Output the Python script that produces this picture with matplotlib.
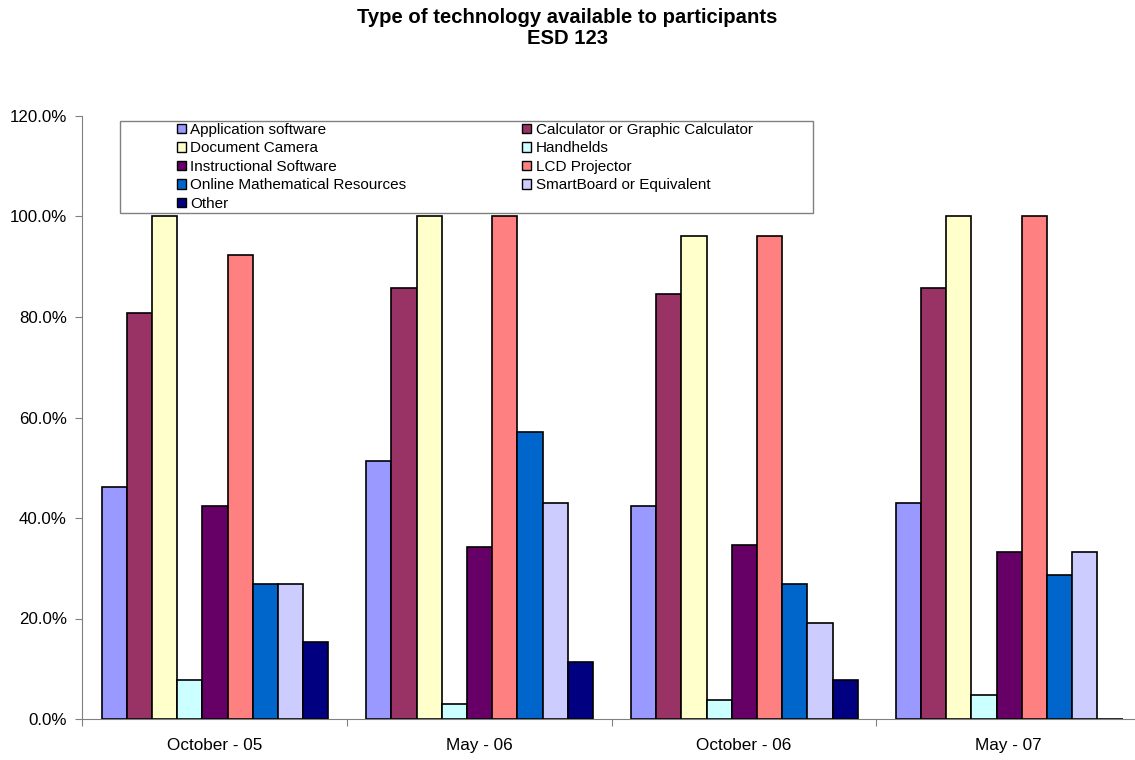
import matplotlib
matplotlib.use("Agg")
import matplotlib.pyplot as plt
import numpy as np
from matplotlib.patches import Patch, Rectangle
from matplotlib.ticker import PercentFormatter

plt.rcParams['font.family'] = ['Liberation Sans', 'DejaVu Sans']

periods = ['October - 05', 'May - 06', 'October - 06', 'May - 07']
techs = ['Application software', 'Calculator or Graphic Calculator',
         'Document Camera', 'Handhelds', 'Instructional Software',
         'LCD Projector', 'Online Mathematical Resources',
         'SmartBoard or Equivalent', 'Other']
colors = ['#9999FF', '#993366', '#FFFFCC', '#CCFFFF', '#660066',
          '#FF8080', '#0066CC', '#CCCCFF', '#000080']

# percent per period, one list per technology
app_software = [46.2, 51.4, 42.3, 42.9]
calculator = [80.8, 85.7, 84.6, 85.7]
doc_camera = [100.0, 100.0, 96.2, 100.0]
handhelds = [7.7, 2.9, 3.8, 4.8]
instructional = [42.3, 34.3, 34.6, 33.3]
lcd_projector = [92.3, 100.0, 96.2, 100.0]
online_math = [26.9, 57.1, 26.9, 28.6]
smartboard = [26.9, 42.9, 19.2, 33.3]
other = [15.4, 11.4, 7.7, 0.0]

series = [app_software, calculator, doc_camera, handhelds, instructional,
          lcd_projector, online_math, smartboard, other]

W, H = 1135, 760
fig = plt.figure(figsize=(W / 100, H / 100), dpi=100)
ax = fig.add_axes([82 / W, (H - 719) / H, 1059 / W, 603 / H])

bw = 25.2 / 264.7
start = 19.5 / 264.7
x = np.arange(len(periods))
for k, (vals, c) in enumerate(zip(series, colors)):
    ax.bar(x + start + k * bw, vals, width=bw, align='edge', color=c,
           edgecolor='black', linewidth=1.2)

ax.set_xlim(0, 4)
ax.set_ylim(0, 120)
ax.set_yticks(np.arange(0, 121, 20))
ax.yaxis.set_major_formatter(PercentFormatter(decimals=1))
ax.set_xticks(np.arange(0, 5))
ax.set_xticklabels([])
ax.set_xticks(x + 0.5, minor=True)
ax.set_xticklabels(periods, minor=True)
ax.tick_params(axis='x', which='minor', length=0, pad=14, labelsize=12.3)
ax.tick_params(axis='x', which='major', length=5, direction='out', color='#808080')
ax.tick_params(axis='y', length=5, direction='out', color='#808080', labelsize=12.2, pad=6)
for s in ['top', 'right']:
    ax.spines[s].set_visible(False)
for s in ['left', 'bottom']:
    ax.spines[s].set_color('#808080')

fig.text(0.5, 1 - 8 / H, 'Type of technology available to participants\nESD 123',
         ha='center', va='top', fontsize=14.6, fontweight='bold', linespacing=1.15)

# legend box
fig.patches.append(Rectangle((120 / W, 1 - 213 / H), 693 / W, 92 / H,
                             transform=fig.transFigure, facecolor='white',
                             edgecolor='#808080', linewidth=1, zorder=5))
handles = [Patch(facecolor=c, edgecolor='black', linewidth=1) for c in colors]
order = [0, 2, 4, 6, 8, 1, 3, 5, 7]
leg = fig.legend([handles[i] for i in order], [techs[i] for i in order],
                 loc='upper left', bbox_to_anchor=(177 / W, 1 - 123 / H),
                 ncol=2, frameon=False, fontsize=11, handlelength=0.58,
                 handleheight=0.58, handletextpad=0.28, labelspacing=0.29,
                 columnspacing=7.6, borderpad=0, borderaxespad=0)
leg.set_zorder(6)

fig.savefig('out.png', dpi=100)
